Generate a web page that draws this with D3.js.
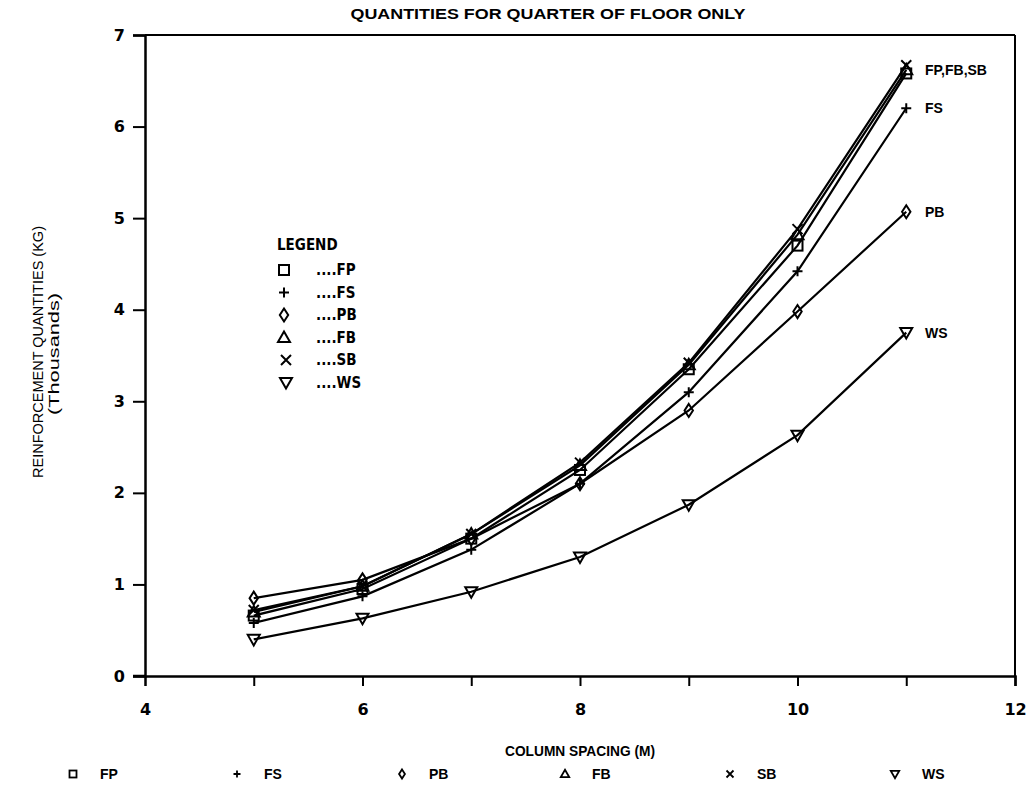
<!DOCTYPE html>
<html><head><meta charset="utf-8">
<script src="https://cdn.jsdelivr.net/npm/d3@7"></script>
<style>
body{margin:0;background:#fff;}
text{font-family:"Liberation Sans",Arial,sans-serif;font-weight:bold;fill:#000;}
</style></head>
<body><svg id="c" width="1031" height="790"></svg>
<script>
const spacing = [5, 6, 7, 8, 9, 10, 11];
const FP = [0.66, 0.95, 1.50, 2.25, 3.35, 4.70, 6.58];
const FS = [0.58, 0.87, 1.38, 2.10, 3.10, 4.42, 6.20];
const PB = [0.85, 1.05, 1.50, 2.10, 2.90, 3.98, 5.07];
const FB = [0.70, 0.98, 1.55, 2.30, 3.40, 4.82, 6.62];
const SB = [0.72, 0.98, 1.55, 2.33, 3.42, 4.88, 6.67];
const WS = [0.40, 0.63, 0.92, 1.30, 1.87, 2.63, 3.75];
const seriesNames = ["FP", "FS", "PB", "FB", "SB", "WS"];
const seriesValues = [FP, FS, PB, FB, SB, WS];
const xTicks = [4, 5, 6, 7, 8, 9, 10, 11, 12];
const xTickLabels = [4, 6, 8, 10, 12];
const yTicks = [0, 1, 2, 3, 4, 5, 6, 7];
const endLabels = [["FP,FB,SB", 6.62], ["FS", 6.20], ["PB", 5.07], ["WS", 3.75]];
const title = "QUANTITIES FOR QUARTER OF FLOOR ONLY";
const xTitle = "COLUMN SPACING (M)";
const yTitle1 = "REINFORCEMENT QUANTITIES (KG)";
const yTitle2 = "(Thousands)";

const svg = d3.select("#c");
const L = 145, R = 1015, T = 35, B = 676;
const x = d3.scaleLinear().domain([4, 12]).range([L, R]);
const y = d3.scaleLinear().domain([0, 7]).range([B, T]);

// frame
svg.append("line").attr("x1", L).attr("x2", R).attr("y1", T).attr("y2", T).attr("stroke", "#000").attr("stroke-width", 2);
svg.append("line").attr("x1", R).attr("x2", R).attr("y1", T).attr("y2", B).attr("stroke", "#000").attr("stroke-width", 2);

// axes
const yAxis = d3.axisLeft(y).tickValues(yTicks).tickSize(12).tickPadding(8).tickFormat(d3.format("d"));
const gy = svg.append("g").attr("transform", `translate(${L},0)`).call(yAxis);
const xAxis = d3.axisBottom(x).tickValues(xTicks).tickSize(10).tickPadding(18)
  .tickFormat(d => xTickLabels.includes(d) ? d : "");
const gx = svg.append("g").attr("transform", `translate(0,${B})`).call(xAxis);
[gx, gy].forEach(g => {
  g.select(".domain").attr("stroke", "#000").attr("stroke-width", 2.5);
  g.selectAll(".tick line").attr("stroke", "#000").attr("stroke-width", 2);
  g.selectAll(".tick text").style("font-size", "16px").style("font-family", "'DejaVu Sans',sans-serif").style("font-weight", "bold");
});
gx.selectAll(".tick").filter(d => d === 4).select("line").remove();
svg.append("line").attr("x1", L - 12).attr("x2", L).attr("y1", B).attr("y2", B).attr("stroke", "#000").attr("stroke-width", 2.5);

// symbols
function drawSym(g, name, cx, cy, s) {
  const st = {stroke: "#000", "stroke-width": 2, fill: "none"};
  let el;
  if (name === "FP") el = g.append("rect").attr("x", cx - s/2).attr("y", cy - s/2).attr("width", s).attr("height", s);
  else if (name === "FS") el = g.append("path").attr("d", `M${cx-s/2},${cy}H${cx+s/2}M${cx},${cy-s/2}V${cy+s/2}`);
  else if (name === "PB") el = g.append("path").attr("d", `M${cx},${cy-s*0.65}L${cx+s*0.42},${cy}L${cx},${cy+s*0.65}L${cx-s*0.42},${cy}Z`);
  else if (name === "FB") el = g.append("path").attr("d", `M${cx},${cy-s*0.6}L${cx+s*0.6},${cy+s*0.45}L${cx-s*0.6},${cy+s*0.45}Z`);
  else if (name === "SB") el = g.append("path").attr("d", `M${cx-s/2},${cy-s/2}L${cx+s/2},${cy+s/2}M${cx+s/2},${cy-s/2}L${cx-s/2},${cy+s/2}`);
  else el = g.append("path").attr("d", `M${cx-s*0.6},${cy-s*0.45}L${cx+s*0.6},${cy-s*0.45}L${cx},${cy+s*0.6}Z`);
  Object.entries(st).forEach(([k, v]) => el.attr(k, v));
  return el;
}

// lines
const line = d3.line().x(d => x(d[0])).y(d => y(d[1]));
seriesNames.forEach((name, i) => {
  const pts = spacing.map((s, j) => [s, seriesValues[i][j]]);
  svg.append("path").datum(pts).attr("d", line).attr("fill", "none").attr("stroke", "#000").attr("stroke-width", 2.2);
});
seriesNames.forEach((name, i) => {
  const g = svg.append("g");
  spacing.forEach((s, j) => drawSym(g, name, x(s), y(seriesValues[i][j]), 10));
});

// end labels
endLabels.forEach(([t, v]) => {
  svg.append("text").attr("x", 925).attr("y", y(v)).attr("dy", "0.35em").style("font-size", "14px").text(t);
});

// title
svg.append("text").attr("x", 548).attr("y", 19).attr("text-anchor", "middle").style("font-size", "14px")
  .attr("textLength", 395).attr("lengthAdjust", "spacingAndGlyphs").text(title);

// axis titles
svg.append("text").attr("x", 580).attr("y", 756).attr("text-anchor", "middle").style("font-size", "14px")
  .attr("textLength", 150).attr("lengthAdjust", "spacingAndGlyphs").text(xTitle);
svg.append("text").attr("transform", "translate(43,352) rotate(-90)").attr("text-anchor", "middle").style("font-size", "15px").style("font-weight", "normal")
  .attr("textLength", 252).attr("lengthAdjust", "spacingAndGlyphs").text(yTitle1);
svg.append("text").attr("transform", "translate(59,354) rotate(-90)").attr("text-anchor", "middle").style("font-size", "14px").style("font-weight", "normal")
  .attr("textLength", 122).attr("lengthAdjust", "spacingAndGlyphs").text(yTitle2);

// inner legend
svg.append("text").attr("x", 277).attr("y", 250).style("font-size", "15px").style("font-family", "'DejaVu Sans Condensed','DejaVu Sans',sans-serif").text("LEGEND");
seriesNames.forEach((name, i) => {
  const cy = 270 + i * 22.5;
  const g = svg.append("g");
  drawSym(g, name, 284 + (i >= 4 ? 2 : 0), cy, 10);
  svg.append("text").attr("x", 316).attr("y", cy).attr("dy", "0.35em").style("font-size", "15px")
    .style("font-family", "'DejaVu Sans Condensed','DejaVu Sans',sans-serif").text("...." + name);
});

// bottom legend
const bx = [73, 237, 402, 565, 730, 895];
seriesNames.forEach((name, i) => {
  const g = svg.append("g");
  drawSym(g, name, bx[i], 774, 7).attr("stroke-width", 1.8);
  svg.append("text").attr("x", bx[i] + 27).attr("y", 774).attr("dy", "0.35em").style("font-size", "14px").text(name);
});
</script></body></html>
